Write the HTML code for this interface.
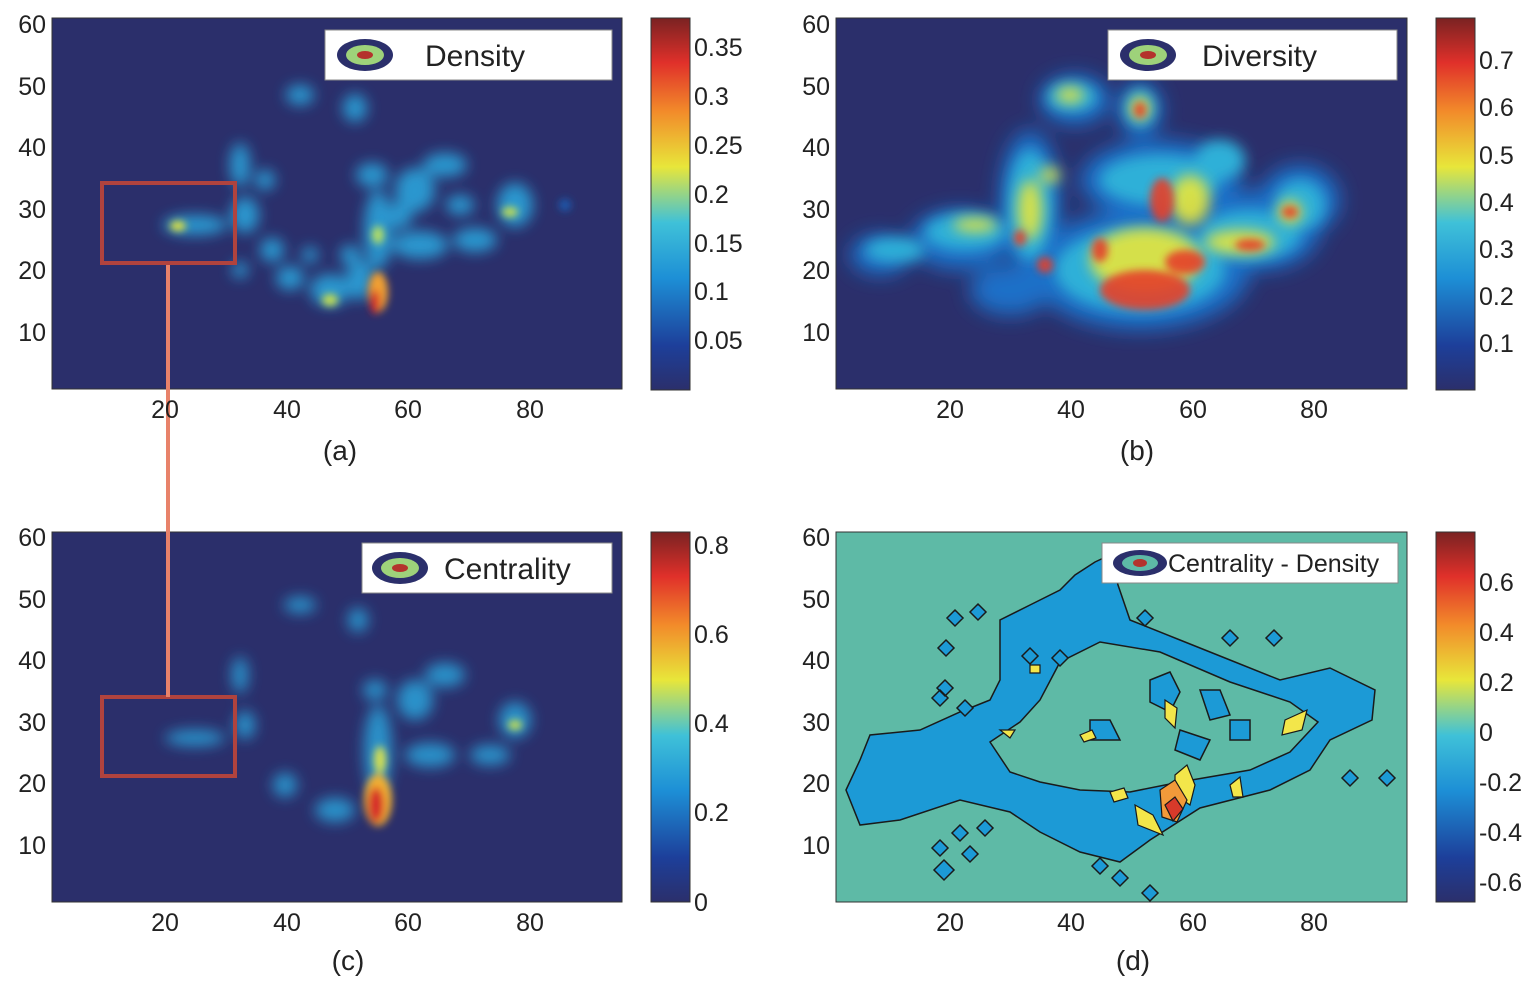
<!DOCTYPE html>
<html><head><meta charset="utf-8"><style>
html,body{margin:0;padding:0;background:#fff;}
svg{display:block;}
text{font-family:"Liberation Sans",sans-serif;fill:#222;}
.t{font-size:25px;}
.cap{font-size:28px;}
.lg{font-size:30px;}
</style></head><body>
<svg width="1536" height="988" viewBox="0 0 1536 988" xmlns="http://www.w3.org/2000/svg">
<defs>
<linearGradient id="jet" x1="0" y1="1" x2="0" y2="0">
<stop offset="0" stop-color="#2b2f6b"/>
<stop offset="0.12" stop-color="#1d3f9a"/>
<stop offset="0.3" stop-color="#1d8fd6"/>
<stop offset="0.45" stop-color="#3fc1d8"/>
<stop offset="0.6" stop-color="#e8e63a"/>
<stop offset="0.75" stop-color="#f28a2a"/>
<stop offset="0.88" stop-color="#e0302a"/>
<stop offset="1" stop-color="#7a2222"/>
</linearGradient>
<filter id="b1" x="-50%" y="-50%" width="200%" height="200%"><feGaussianBlur stdDeviation="7"/></filter>
<filter id="b2" x="-50%" y="-50%" width="200%" height="200%"><feGaussianBlur stdDeviation="4"/></filter>
<filter id="b3" x="-50%" y="-50%" width="200%" height="200%"><feGaussianBlur stdDeviation="10"/></filter>
<clipPath id="ca"><rect x="52" y="18" width="570" height="371"/></clipPath>
<clipPath id="cb"><rect x="836" y="18" width="571" height="371"/></clipPath>
<clipPath id="cc"><rect x="52" y="532" width="570" height="370"/></clipPath>
</defs>

<!-- Panel a -->
<rect x="52" y="18" width="570" height="371" fill="#2b2f6b" stroke="#333"/>
<g clip-path="url(#ca)">
<g filter="url(#b1)" fill="#2aa3da" opacity="0.9">
<ellipse cx="300" cy="95" rx="14" ry="10"/><ellipse cx="355" cy="108" rx="12" ry="14"/>
<ellipse cx="240" cy="165" rx="10" ry="22"/><ellipse cx="265" cy="180" rx="10" ry="10"/>
<ellipse cx="195" cy="225" rx="32" ry="10"/><ellipse cx="245" cy="215" rx="14" ry="18"/>
<ellipse cx="272" cy="250" rx="12" ry="12"/><ellipse cx="290" cy="278" rx="14" ry="12"/>
<ellipse cx="330" cy="290" rx="20" ry="16"/><ellipse cx="360" cy="280" rx="14" ry="20"/>
<ellipse cx="378" cy="230" rx="14" ry="40"/><ellipse cx="372" cy="175" rx="16" ry="12"/>
<ellipse cx="415" cy="190" rx="20" ry="22"/><ellipse cx="445" cy="165" rx="22" ry="12"/>
<ellipse cx="420" cy="245" rx="28" ry="14"/><ellipse cx="475" cy="240" rx="22" ry="12"/>
<ellipse cx="515" cy="205" rx="18" ry="22"/><ellipse cx="400" cy="215" rx="12" ry="14"/>
<ellipse cx="350" cy="255" rx="10" ry="10"/><ellipse cx="310" cy="255" rx="8" ry="8"/>
<ellipse cx="460" cy="205" rx="14" ry="10"/><ellipse cx="240" cy="270" rx="8" ry="8"/>
</g>
<g filter="url(#b2)">
<ellipse cx="565" cy="205" rx="6" ry="6" fill="#1d5cb0"/>
<ellipse cx="178" cy="226" rx="8" ry="5" fill="#e8e63a"/>
<ellipse cx="510" cy="212" rx="8" ry="5" fill="#c8e050"/>
<ellipse cx="378" cy="235" rx="6" ry="9" fill="#b8e060"/>
<ellipse cx="330" cy="300" rx="8" ry="6" fill="#c8e050"/>
<ellipse cx="378" cy="292" rx="10" ry="20" fill="#f2a030"/>
<ellipse cx="375" cy="302" rx="5" ry="12" fill="#d62a2a"/>
</g>
</g>
<rect x="325" y="30" width="287" height="50" fill="#fff" stroke="#888"/>
<ellipse cx="365" cy="55" rx="28" ry="16" fill="#2b2f6b"/><ellipse cx="365" cy="55" rx="19" ry="10" fill="#9ed27a"/><ellipse cx="365" cy="55" rx="8" ry="4" fill="#b4332c"/>
<text class="lg" x="425" y="66">Density</text>
<rect x="102" y="183" width="133" height="80" fill="none" stroke="#b0433e" stroke-width="4"/>

<!-- Panel b -->
<rect x="836" y="18" width="571" height="371" fill="#2b2f6b" stroke="#333"/>
<g clip-path="url(#cb)">
<g filter="url(#b3)" fill="#1d6fc8">
<ellipse cx="880" cy="255" rx="30" ry="20"/><ellipse cx="960" cy="240" rx="50" ry="30"/>
<ellipse cx="1030" cy="200" rx="30" ry="70"/><ellipse cx="1075" cy="100" rx="35" ry="25"/>
<ellipse cx="1140" cy="110" rx="22" ry="28"/><ellipse cx="1160" cy="180" rx="80" ry="40"/>
<ellipse cx="1140" cy="270" rx="110" ry="60"/><ellipse cx="1260" cy="230" rx="60" ry="40"/>
<ellipse cx="1300" cy="200" rx="40" ry="35"/><ellipse cx="1010" cy="290" rx="40" ry="25"/>
</g>
<g filter="url(#b1)" fill="#2fb0d8">
<ellipse cx="895" cy="250" rx="30" ry="12"/><ellipse cx="965" cy="232" rx="40" ry="18"/>
<ellipse cx="1030" cy="205" rx="22" ry="55"/><ellipse cx="1072" cy="97" rx="25" ry="14"/>
<ellipse cx="1140" cy="108" rx="14" ry="18"/><ellipse cx="1160" cy="180" rx="60" ry="25"/>
<ellipse cx="1140" cy="270" rx="85" ry="42"/><ellipse cx="1250" cy="235" rx="50" ry="25"/>
<ellipse cx="1300" cy="205" rx="25" ry="25"/><ellipse cx="1220" cy="160" rx="25" ry="20"/>
</g>
<g filter="url(#b1)" fill="#e8e63a" opacity="0.9">
<ellipse cx="1070" cy="95" rx="14" ry="8"/><ellipse cx="1140" cy="108" rx="10" ry="12"/>
<ellipse cx="975" cy="225" rx="22" ry="7"/><ellipse cx="1030" cy="210" rx="12" ry="30"/>
<ellipse cx="1145" cy="260" rx="55" ry="32"/><ellipse cx="1240" cy="242" rx="35" ry="12"/>
<ellipse cx="1290" cy="212" rx="12" ry="12"/><ellipse cx="1050" cy="175" rx="10" ry="8"/>
<ellipse cx="1190" cy="200" rx="20" ry="25"/>
</g>
<g filter="url(#b2)" fill="#e5402a" opacity="0.9">
<ellipse cx="1140" cy="110" rx="6" ry="8"/><ellipse cx="1162" cy="200" rx="12" ry="22"/>
<ellipse cx="1145" cy="290" rx="45" ry="20"/><ellipse cx="1185" cy="262" rx="20" ry="12"/>
<ellipse cx="1045" cy="265" rx="8" ry="8"/><ellipse cx="1020" cy="238" rx="6" ry="8"/>
<ellipse cx="1290" cy="212" rx="8" ry="6"/><ellipse cx="1250" cy="245" rx="15" ry="6"/>
<ellipse cx="1100" cy="250" rx="8" ry="12"/>
</g>
</g>
<rect x="1108" y="30" width="289" height="50" fill="#fff" stroke="#888"/>
<ellipse cx="1148" cy="55" rx="28" ry="16" fill="#2b2f6b"/><ellipse cx="1148" cy="55" rx="19" ry="10" fill="#9ed27a"/><ellipse cx="1148" cy="55" rx="8" ry="4" fill="#b4332c"/>
<text class="lg" x="1202" y="66">Diversity</text>

<!-- Panel c -->
<rect x="52" y="532" width="570" height="370" fill="#2b2f6b" stroke="#333"/>
<g clip-path="url(#cc)">
<g filter="url(#b1)" fill="#2aa3da" opacity="0.85">
<ellipse cx="300" cy="605" rx="16" ry="8"/><ellipse cx="358" cy="620" rx="10" ry="12"/>
<ellipse cx="240" cy="675" rx="8" ry="18"/><ellipse cx="195" cy="738" rx="30" ry="8"/>
<ellipse cx="245" cy="725" rx="10" ry="14"/><ellipse cx="285" cy="785" rx="12" ry="12"/>
<ellipse cx="335" cy="810" rx="20" ry="12"/><ellipse cx="378" cy="750" rx="14" ry="45"/>
<ellipse cx="415" cy="700" rx="18" ry="20"/><ellipse cx="445" cy="675" rx="20" ry="12"/>
<ellipse cx="430" cy="755" rx="25" ry="12"/><ellipse cx="490" cy="755" rx="20" ry="10"/>
<ellipse cx="515" cy="720" rx="16" ry="18"/><ellipse cx="375" cy="690" rx="12" ry="10"/>
</g>
<g filter="url(#b2)">
<ellipse cx="380" cy="760" rx="6" ry="14" fill="#d8e050"/>
<ellipse cx="378" cy="800" rx="14" ry="26" fill="#f2b030"/>
<ellipse cx="376" cy="805" rx="8" ry="18" fill="#d62a2a"/>
<ellipse cx="515" cy="725" rx="7" ry="5" fill="#c8e050"/>
</g>
</g>
<rect x="362" y="543" width="250" height="50" fill="#fff" stroke="#888"/>
<ellipse cx="400" cy="568" rx="28" ry="16" fill="#2b2f6b"/><ellipse cx="400" cy="568" rx="19" ry="10" fill="#9ed27a"/><ellipse cx="400" cy="568" rx="8" ry="4" fill="#b4332c"/>
<text class="lg" x="444" y="579">Centrality</text>
<rect x="102" y="697" width="133" height="79" fill="none" stroke="#b0433e" stroke-width="4"/>
<line x1="168" y1="265" x2="168" y2="697" stroke="#e8826a" stroke-width="4"/>

<!-- Panel d -->
<rect x="836" y="532" width="571" height="370" fill="#5ebaa6" stroke="#333"/>
<g stroke="#1a1a1a" stroke-width="1.5" fill="#1c9ad6">
<path fill-rule="evenodd" d="M846,790 L860,760 L870,735 L920,730 L960,712 L990,700 L1000,680 L1000,620 L1030,605 L1060,590 L1075,575 L1095,562 L1110,555 L1118,585 L1130,620 L1180,640 L1230,660 L1280,680 L1330,668 L1375,690 L1372,720 L1330,740 L1310,770 L1270,790 L1200,808 L1150,840 L1120,862 L1080,852 L1040,832 L1010,812 L960,800 L900,820 L860,825 Z M990,742 L1020,722 L1040,700 L1060,662 L1100,642 L1160,652 L1230,682 L1290,702 L1318,722 L1290,752 L1250,770 L1180,782 L1130,792 L1080,790 L1040,782 L1010,772 Z"/>
<path d="M940,690 l8,8 l-8,8 l-8,-8z M955,610 l8,8 l-8,8 l-8,-8z M978,604 l8,8 l-8,8 l-8,-8z M946,640 l8,8 l-8,8 l-8,-8z M945,680 l8,8 l-8,8 l-8,-8z M965,700 l8,8 l-8,8 l-8,-8z M960,825 l8,8 l-8,8 l-8,-8z M970,846 l8,8 l-8,8 l-8,-8z M940,840 l8,8 l-8,8 l-8,-8z M985,820 l8,8 l-8,8 l-8,-8z M944,860 l10,10 l-10,10 l-10,-10z M1100,858 l8,8 l-8,8 l-8,-8z M1120,870 l8,8 l-8,8 l-8,-8z M1150,885 l8,8 l-8,8 l-8,-8z M1230,630 l8,8 l-8,8 l-8,-8z M1274,630 l8,8 l-8,8 l-8,-8z M1350,770 l8,8 l-8,8 l-8,-8z M1387,770 l8,8 l-8,8 l-8,-8z M1030,648 l8,8 l-8,8 l-8,-8z M1060,650 l8,8 l-8,8 l-8,-8z M1145,610 l8,8 l-8,8 l-8,-8z"/>
<path d="M1150,680 l20,-8 l10,20 l-10,20 l-20,-10z M1200,690 l20,0 l10,25 l-20,5z M1090,720 l20,0 l10,20 l-30,0z M1180,730 l30,10 l-10,20 l-25,-10z M1230,720 l20,0 l0,20 l-20,0z"/>
</g>
<g stroke="#1a1a1a" stroke-width="1.2" fill="#f3e64a">
<path d="M1080,735 l12,-5 l4,8 l-12,4z M1110,792 l14,-4 l4,10 l-14,4z M1135,805 l18,10 l10,20 l-25,-10z M1175,775 l12,-10 l8,20 l-5,20 l-15,-10z M1285,720 l22,-10 l-5,20 l-20,5z M1230,785 l10,-8 l3,20 l-10,0z M1165,700 l12,8 l-2,20 l-10,-10z M1030,665 l10,0 l0,8 l-10,0z M1000,730 l15,0 l-5,8z"/>
<path fill="#f29a3a" d="M1160,790 l15,-10 l12,20 l-10,22 l-15,-5z"/>
<path fill="#d83a2a" d="M1165,805 l10,-8 l8,12 l-10,12z"/>
</g>
<rect x="1102" y="543" width="296" height="40" fill="#fff" stroke="#888"/>
<ellipse cx="1140" cy="563" rx="27" ry="13" fill="#2b2f6b"/><ellipse cx="1140" cy="563" rx="18" ry="8" fill="#5ebaa6"/><ellipse cx="1140" cy="563" rx="7" ry="4" fill="#b4332c"/>
<text x="1168" y="572" style="font-size:25px">Centrality - Density</text>

<!-- colorbars -->
<rect x="651" y="18" width="39" height="372" fill="url(#jet)" stroke="#333"/>
<rect x="1436" y="18" width="39" height="372" fill="url(#jet)" stroke="#333"/>
<rect x="651" y="532" width="39" height="370" fill="url(#jet)" stroke="#333"/>
<rect x="1436" y="532" width="39" height="370" fill="url(#jet)" stroke="#333"/>

<g class="t">
<text class="t" x="694" y="56">0.35</text><text class="t" x="694" y="105">0.3</text><text class="t" x="694" y="154">0.25</text><text class="t" x="694" y="203">0.2</text><text class="t" x="694" y="252">0.15</text><text class="t" x="694" y="300">0.1</text><text class="t" x="694" y="349">0.05</text>
<text class="t" x="1479" y="69">0.7</text><text class="t" x="1479" y="116">0.6</text><text class="t" x="1479" y="164">0.5</text><text class="t" x="1479" y="211">0.4</text><text class="t" x="1479" y="258">0.3</text><text class="t" x="1479" y="305">0.2</text><text class="t" x="1479" y="352">0.1</text>
<text class="t" x="694" y="554">0.8</text><text class="t" x="694" y="643">0.6</text><text class="t" x="694" y="732">0.4</text><text class="t" x="694" y="821">0.2</text><text class="t" x="694" y="911">0</text>
<text class="t" x="1479" y="591">0.6</text><text class="t" x="1479" y="641">0.4</text><text class="t" x="1479" y="691">0.2</text><text class="t" x="1479" y="741">0</text><text class="t" x="1479" y="791">-0.2</text><text class="t" x="1479" y="841">-0.4</text><text class="t" x="1479" y="891">-0.6</text>
</g>

<g class="t" text-anchor="end">
<text class="t" x="46" y="33">60</text><text class="t" x="46" y="95">50</text><text class="t" x="46" y="156">40</text><text class="t" x="46" y="218">30</text><text class="t" x="46" y="279">20</text><text class="t" x="46" y="341">10</text>
<text class="t" x="830" y="33">60</text><text class="t" x="830" y="95">50</text><text class="t" x="830" y="156">40</text><text class="t" x="830" y="218">30</text><text class="t" x="830" y="279">20</text><text class="t" x="830" y="341">10</text>
<text class="t" x="46" y="546">60</text><text class="t" x="46" y="608">50</text><text class="t" x="46" y="669">40</text><text class="t" x="46" y="731">30</text><text class="t" x="46" y="792">20</text><text class="t" x="46" y="854">10</text>
<text class="t" x="830" y="546">60</text><text class="t" x="830" y="608">50</text><text class="t" x="830" y="669">40</text><text class="t" x="830" y="731">30</text><text class="t" x="830" y="792">20</text><text class="t" x="830" y="854">10</text>
</g>
<g text-anchor="middle">
<text class="t" x="165" y="418">20</text><text class="t" x="287" y="418">40</text><text class="t" x="408" y="418">60</text><text class="t" x="530" y="418">80</text>
<text class="t" x="950" y="418">20</text><text class="t" x="1071" y="418">40</text><text class="t" x="1193" y="418">60</text><text class="t" x="1314" y="418">80</text>
<text class="t" x="165" y="931">20</text><text class="t" x="287" y="931">40</text><text class="t" x="408" y="931">60</text><text class="t" x="530" y="931">80</text>
<text class="t" x="950" y="931">20</text><text class="t" x="1071" y="931">40</text><text class="t" x="1193" y="931">60</text><text class="t" x="1314" y="931">80</text>
<text class="cap" x="340" y="460">(a)</text><text class="cap" x="1137" y="460">(b)</text>
<text class="cap" x="348" y="970">(c)</text><text class="cap" x="1133" y="970">(d)</text>
</g>
</svg>
</body></html>
